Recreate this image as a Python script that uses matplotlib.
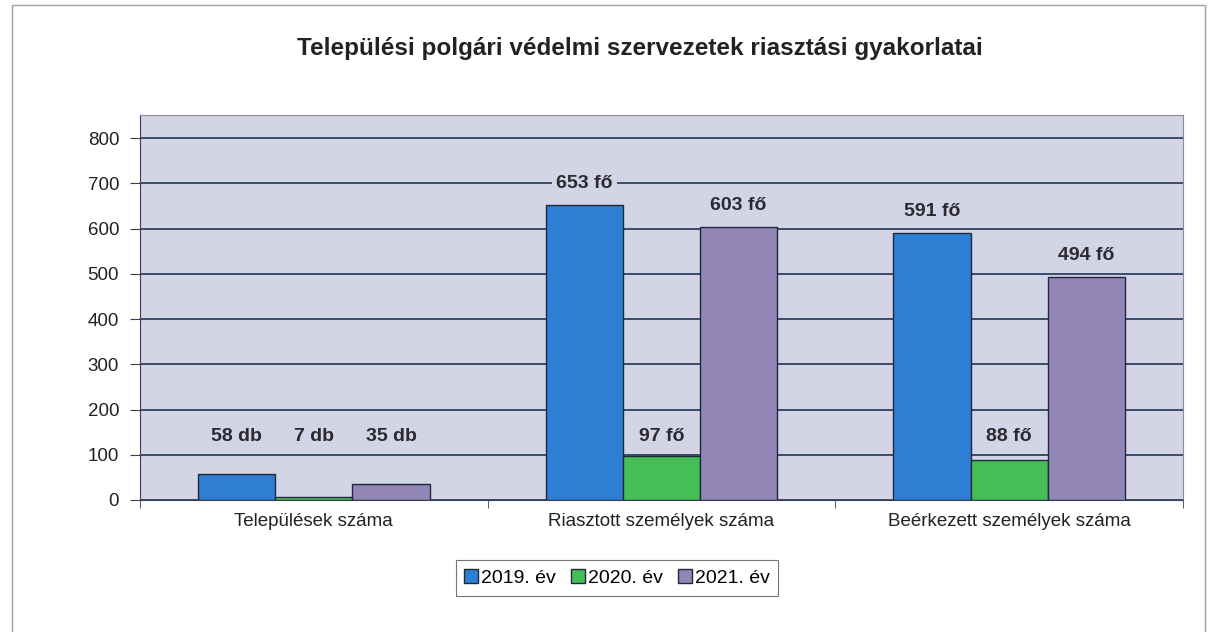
import matplotlib
matplotlib.use("Agg")
import matplotlib.pyplot as plt
import numpy as np
from matplotlib.patches import Rectangle

categories = ["Települések száma", "Riasztott személyek száma", "Beérkezett személyek száma"]
series_names = ["2019. év", "2020. év", "2021. év"]
v2019 = [58, 653, 591]
v2020 = [7, 97, 88]
v2021 = [35, 603, 494]
units = ["db", "fő", "fő"]
title = "Települési polgári védelmi szervezetek riasztási gyakorlatai"

colors = ["#2E7ED3", "#45BF55", "#9286B6"]
plt.rcParams['font.family'] = ['Liberation Sans', 'DejaVu Sans']

fig = plt.figure(figsize=(12.10, 6.32), dpi=100)
W, H = 1210, 632
ax = fig.add_axes([140/W, 1 - 500/H, (1183-140)/W, (500-115)/H])
ax.set_facecolor("#D3D5E7")

# outer frame
fig.patches.append(Rectangle((12/W, -0.01), (1205-12)/W, (632-5)/H + 0.01,
                             transform=fig.transFigure, fill=False,
                             edgecolor="#A0A0A8", lw=1.0))

x = np.arange(len(categories))
bw = 0.222
data = [v2019, v2020, v2021]
for i, (vals, c, name) in enumerate(zip(data, colors, series_names)):
    pos = x + (i - 1) * bw
    ax.bar(pos, vals, width=bw, color=c, edgecolor="#1E2A3A", lw=1.0,
           label=name, zorder=3)
    for p, v, u in zip(pos, vals, units):
        ly = v + 47 if v > 300 else 140
        ax.text(p, ly, f"{v} {u}", ha="center", va="center",
                fontsize=14, fontweight="bold", color="#2A2A30", zorder=5,
                bbox=dict(facecolor="#D3D5E7", edgecolor="none", pad=3) if v > 300 else None)

ax.set_xlim(-0.5, 2.5)
ax.set_ylim(0, 851)
ax.set_yticks(range(0, 801, 100))
ax.tick_params(axis="y", labelsize=13.5, length=7, pad=8, color="#3A4050", labelcolor="#222")
ax.set_xticks(x)
ax.set_xticklabels(categories, fontsize=13.5, color="#222")
ax.tick_params(axis="x", length=0, pad=9)
ax.set_xticks([-0.5, 0.5, 1.5, 2.5], minor=True)
ax.tick_params(axis="x", which="minor", length=6, color="#3A4050")
ax.grid(axis="y", color="#223354", lw=1.2, zorder=1)
for s in ["top", "right"]:
    ax.spines[s].set_color("#8A8C98")
    ax.spines[s].set_linestyle((0, (1, 1)))
ax.spines["left"].set_color("#3A4050")
ax.spines["bottom"].set_color("#3A4050")

fig.text(640/W, 1 - 48/H, title, ha="center", va="center", fontsize=17.5,
         fontweight="bold", color="#222")

leg = fig.legend(loc="center", bbox_to_anchor=(617/W, 1 - 578/H), ncol=3,
                 frameon=True, fancybox=False, edgecolor="#555", fontsize=14,
                 handlelength=0.7, handleheight=0.7, handletextpad=0.15,
                 columnspacing=0.8, borderpad=0.45)
leg.get_frame().set_linewidth(0.8)

fig.savefig("out.png", dpi=100)
